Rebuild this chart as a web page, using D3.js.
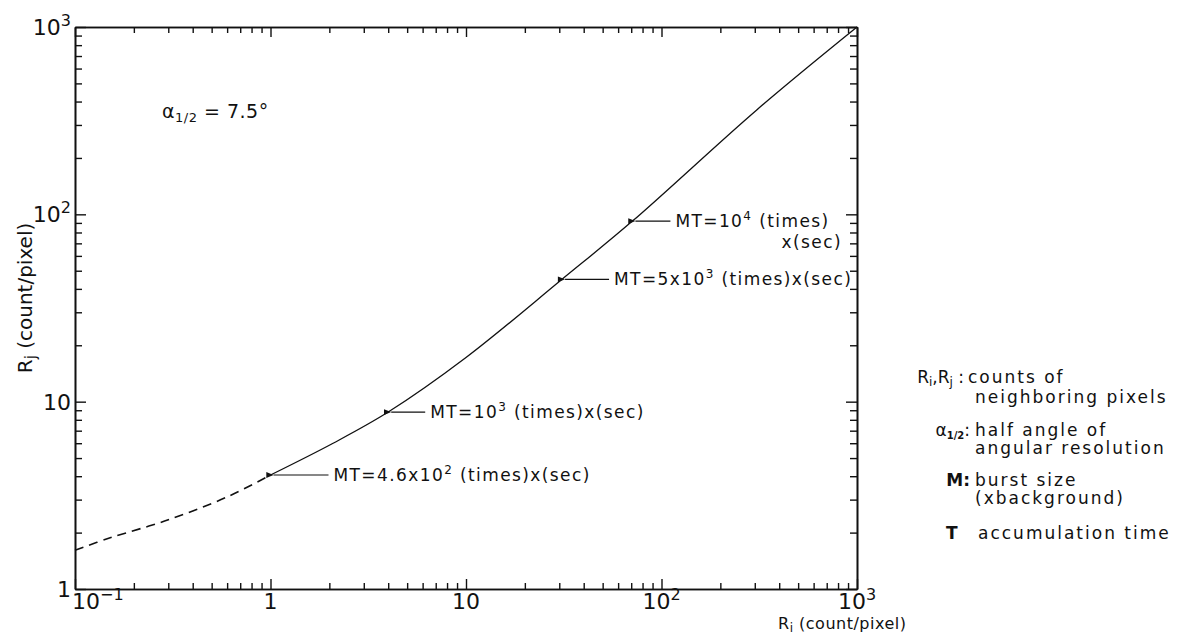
<!DOCTYPE html>
<html>
<head>
<meta charset="utf-8">
<script src="https://cdn.jsdelivr.net/npm/d3@7"></script>
<style>
  body { margin:0; background:#fff; }
  svg { font-family:'DejaVu Sans', sans-serif; fill:#111; }
  .axis path, .axis line { stroke:#111; }
  .axis path { stroke-width:1.6; }
</style>
</head>
<body>
<div class="chart"></div>
<script>
//Data
// dashed part of curve (Ri < 1)
const dashRi = [0.1, 0.15, 0.3, 0.6, 1];
const dashRj = [1.61, 1.87, 2.34, 3.1, 4.06];
// solid part of curve
const solidRi = [1, 2.09, 4, 10, 31, 71, 307, 1000];
const solidRj = [4.06, 6.0, 8.8, 17.2, 45, 92, 361, 1000];

// MT labels along the curve
const annotRi = [1, 4, 31, 71];
const annotRj = [4.06, 8.8, 45, 92];
const annotBase = ['MT=4.6x10', 'MT=10', 'MT=5x10', 'MT=10'];
const annotExp = ['2', '3', '3', '4'];
const annotTail = [' (times)x(sec)', ' (times)x(sec)', ' (times)x(sec)', ' (times)'];

// tick labels
const xTickVals = [0.1, 1, 10, 100, 1000];
const xTickBase = ['10', '1', '10', '10', '10'];
const xTickExp = ['\u22121', '', '', '2', '3'];
const yTickVals = [1, 10, 100, 1000];
const yTickBase = ['1', '10', '10', '10'];
const yTickExp = ['', '', '2', '3'];

// legend
const legendKeys = ['Ri,Rj :', 'α1/2:', 'M:', 'T'];
const legendLines = [
  ['counts of', 'neighboring pixels'],
  ['half angle of', 'angular resolution'],
  ['burst size', '(xbackground)'],
  ['accumulation time']
];

function minorTicks(lo, hi){
  const out = [];
  for (let p = lo; p < hi; p++){
    for (let k = 2; k < 10; k++) out.push(k * Math.pow(10, p));
  }
  return out;
}

const svg_width = 1181;
const svg_height = 637;
const margin = {top:27, right:324, bottom:48, left:75};
const width = svg_width - margin.left - margin.right;
const height = svg_height - margin.top - margin.bottom;

const svg = d3.select('.chart').append('svg')
  .attr('width', svg_width).attr('height', svg_height);
const g = svg.append('g').attr('transform', `translate(${margin.left},${margin.top})`);

const xScale = d3.scaleLog().domain([0.1, 1000]).range([0, width]);
const yScale = d3.scaleLog().domain([1, 1000]).range([height, 0]);

const xMinor = minorTicks(-1, 3);
const yMinor = minorTicks(0, 3);

// axes on four sides, ticks pointing inward
function drawAxis(axisFn, scale, vals, size, transform){
  g.append('g').attr('class', 'axis').attr('transform', transform)
    .call(axisFn(scale).tickValues(vals).tickSizeInner(size).tickSizeOuter(0).tickFormat(''));
}
drawAxis(d3.axisBottom, xScale, xTickVals, -10, `translate(0,${height})`);
drawAxis(d3.axisBottom, xScale, xMinor, -6, `translate(0,${height})`);
drawAxis(d3.axisTop, xScale, xTickVals, -10, 'translate(0,0)');
drawAxis(d3.axisTop, xScale, xMinor, -6, 'translate(0,0)');
drawAxis(d3.axisLeft, yScale, yTickVals, -11, 'translate(0,0)');
drawAxis(d3.axisLeft, yScale, yMinor, -7, 'translate(0,0)');
drawAxis(d3.axisRight, yScale, yTickVals, -11, `translate(${width},0)`);
drawAxis(d3.axisRight, yScale, yMinor, -7, `translate(${width},0)`);
g.selectAll('.axis line').attr('stroke-width', 1.4);

// tick labels
const xLab = g.append('g').attr('font-size', 22);
xTickVals.forEach((v, i) => {
  const t = xLab.append('text')
    .attr('x', xScale(v) - (i === 0 ? 3 : 0))
    .attr('y', height + 20)
    .attr('text-anchor', i === 0 ? 'start' : 'middle');
  t.append('tspan').text(xTickBase[i]);
  if (xTickExp[i]) t.append('tspan').attr('dy', -9).attr('font-size', 16).text(xTickExp[i]);
});
const yLab = g.append('g').attr('font-size', 22);
yTickVals.forEach((v, i) => {
  const t = yLab.append('text')
    .attr('x', -4).attr('y', yScale(v) + 8)
    .attr('text-anchor', 'end');
  t.append('tspan').text(yTickBase[i]);
  if (yTickExp[i]) t.append('tspan').attr('dy', -9).attr('font-size', 16).text(yTickExp[i]);
});

// axis titles
const yTitle = svg.append('text').attr('font-size', 20)
  .attr('transform', `translate(32,298) rotate(-90)`).attr('text-anchor', 'middle');
yTitle.append('tspan').text('R');
yTitle.append('tspan').attr('font-size', 15).attr('dy', 4).text('j');
yTitle.append('tspan').attr('dy', -4).text(' (count/pixel)');

const xTitle = svg.append('text').attr('font-size', 16).attr('letter-spacing', 0.5)
  .attr('x', 778).attr('y', 629);
xTitle.append('tspan').text('R');
xTitle.append('tspan').attr('font-size', 12).attr('dy', 3).text('i');
xTitle.append('tspan').attr('dy', -3).text(' (count/pixel)');

// curve
const line = d3.line().x(d => xScale(d[0])).y(d => yScale(d[1])).curve(d3.curveCatmullRom.alpha(0.5));
g.append('path').datum(dashRi.map((d, i) => [d, dashRj[i]]))
  .attr('d', line).attr('fill', 'none').attr('stroke', '#111')
  .attr('stroke-width', 1.6).attr('stroke-dasharray', '9,6');
g.append('path').datum(solidRi.map((d, i) => [d, solidRj[i]]))
  .attr('d', line).attr('fill', 'none').attr('stroke', '#111')
  .attr('stroke-width', 1.3);

// arrow annotations
svg.append('defs').append('marker').attr('id', 'arr')
  .attr('viewBox', '0 0 10 10').attr('refX', 0).attr('refY', 5)
  .attr('markerWidth', 9).attr('markerHeight', 6).attr('orient', 'auto')
  .append('path').attr('d', 'M10,1 L0,5 L10,9 Z').attr('fill', '#111');

const arrowLen = [55, 34, 44, 35];
const annot = g.append('g').attr('font-size', 17).attr('letter-spacing', 1.4);
annotRi.forEach((v, i) => {
  const x0 = xScale(v) + 3, y0 = yScale(annotRj[i]);
  annot.append('line').attr('x1', x0 + arrowLen[i]).attr('y1', y0)
    .attr('x2', x0).attr('y2', y0)
    .attr('stroke', '#111').attr('stroke-width', 1.2).attr('marker-end', 'url(#arr)');
  const t = annot.append('text').attr('x', x0 + arrowLen[i] + 5).attr('y', y0 + 6);
  t.append('tspan').text(annotBase[i]);
  t.append('tspan').attr('dy', -7).attr('font-size', 12).text(annotExp[i]);
  t.append('tspan').attr('dy', 7).text(annotTail[i]);
  if (i === 3) {
    annot.append('text').attr('x', 767).attr('y', y0 + 27)
      .attr('text-anchor', 'end').text('x(sec)');
  }
});

// alpha label
const alpha = g.append('text').attr('font-size', 19).attr('letter-spacing', 0.5).attr('x', 87).attr('y', 91);
alpha.append('tspan').text('α');
alpha.append('tspan').attr('font-size', 13).attr('dy', 4).text('1/2');
alpha.append('tspan').attr('dy', -4).text(' = 7.5°');

// legend
const legend = svg.append('g').attr('font-size', 17);
const legendY = [383, 436, 486, 539];
const keyX = [964, 970, 970, 946];
const valX = [968, 975, 975, 978];
legendKeys.forEach((k, i) => {
  const kt = legend.append('text').attr('x', keyX[i]).attr('y', legendY[i])
    .attr('text-anchor', i === 3 ? 'start' : 'end');
  if (i === 0) {
    kt.append('tspan').text('R');
    kt.append('tspan').attr('font-size', 12).attr('dy', 3).text('i');
    kt.append('tspan').attr('dy', -3).text(',R');
    kt.append('tspan').attr('font-size', 12).attr('dy', 3).text('j');
    kt.append('tspan').attr('dy', -3).text(' :');
  } else if (i === 1) {
    kt.append('tspan').text('α');
    kt.append('tspan').attr('font-size', 10).attr('font-weight', 'bold').attr('dy', 3).text('1/2');
    kt.append('tspan').attr('dy', -3).text(':');
  } else {
    kt.append('tspan').attr('font-weight', 'bold').text(k);
  }
  legendLines[i].forEach((s, j) => {
    legend.append('text').attr('x', valX[i] + (i === 0 && j === 1 ? 7 : 0))
      .attr('letter-spacing', 2)
      .attr('y', legendY[i] + j * (i === 0 ? 20 : 18)).text(s);
  });
});
</script>
</body>
</html>
